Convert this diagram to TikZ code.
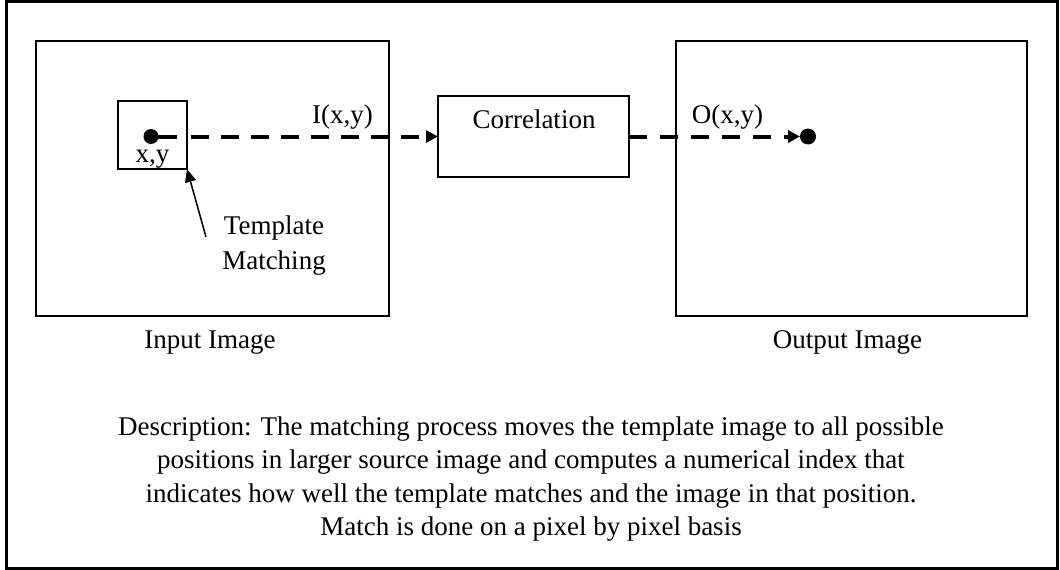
\documentclass[tikz,border=0pt]{standalone}
\usepackage{fontspec}
\setmainfont{Liberation Serif}
\usetikzlibrary{arrows.meta}
\begin{document}
\begin{tikzpicture}[x=1pt,y=-1pt,
  every node/.style={inner sep=0pt, outer sep=0pt},
  txt/.style={font=\fontsize{27}{33}\selectfont, text=black, anchor=base},
  boxnode/.style={draw=black, line width=1.4pt, anchor=north west},
  dotnode/.style={circle, fill=black, minimum size=15pt},
  flow/.style={line width=4pt, -{Triangle[length=12pt,width=12pt]}},
  pointer/.style={line width=1.5pt, -{Triangle[length=13pt,width=11pt]}}]
\useasboundingbox (0,0) rectangle (1060,570);
\fill[white] (0,0) rectangle (1060,570);
% boxes
\node[boxnode, line width=3pt, minimum width=1051pt, minimum height=566.5pt] (frame) at (6,1.5) {};
\node[boxnode, minimum width=353pt, minimum height=275pt] (inbox) at (36,41) {};
\node[boxnode, minimum width=351pt, minimum height=275pt] (outbox) at (676,41) {};
\node[boxnode, minimum width=69pt, minimum height=68pt] (tmpl) at (118,101) {};
\node[boxnode, minimum width=191pt, minimum height=81pt] (corr) at (438,96) {};
% dots
\node[dotnode] (dotin) at (151,136.5) {};
\node[dotnode, minimum size=16pt] (dotout) at (808,136.5) {};
% flow arrows
\draw[flow, dash pattern=on 26pt off 14pt on 18pt off 12pt on 18pt off 12pt on 18pt off 12pt on 18pt off 12pt on 18pt off 12pt on 18pt off 12pt on 18pt off 12pt on 18pt off 12pt]
  (dotin.center) -- (corr.west);
\draw[flow, dash pattern=on 18pt off 13pt] (corr.east) -- (dotout.west);
% pointer
\coordinate (tmtail) at (206,237);
\draw[pointer] (tmtail) -- (tmpl.south east);
% texts
\node[txt] (xy) at (152.5,162) {x,y};
\node[txt] (ilab) at (342.5,123) {I(x,y)};
\node[txt] (olab) at (727.5,123.5) {O(x,y)};
\node[txt] (corrtxt) at (534,128) {Correlation};
\node[txt] (tmlab1) at (274,234) {Template};
\node[txt] (tmlab2) at (274,269) {Matching};
\node[txt] (inlab) at (210,348) {Input Image};
\node[txt] (outlab) at (847.5,348) {Output Image};
\node[txt] (desc1) at (531,435) {Description: The matching process moves the template image to all possible};
\node[txt] (desc2) at (531,468.5) {positions in larger source image and computes a numerical index that};
\node[txt] (desc3) at (531,502) {indicates how well the template matches and the image in that position.};
\node[txt] (desc4) at (531,535.5) {Match is done on a pixel by pixel basis};
\end{tikzpicture}
\end{document}
